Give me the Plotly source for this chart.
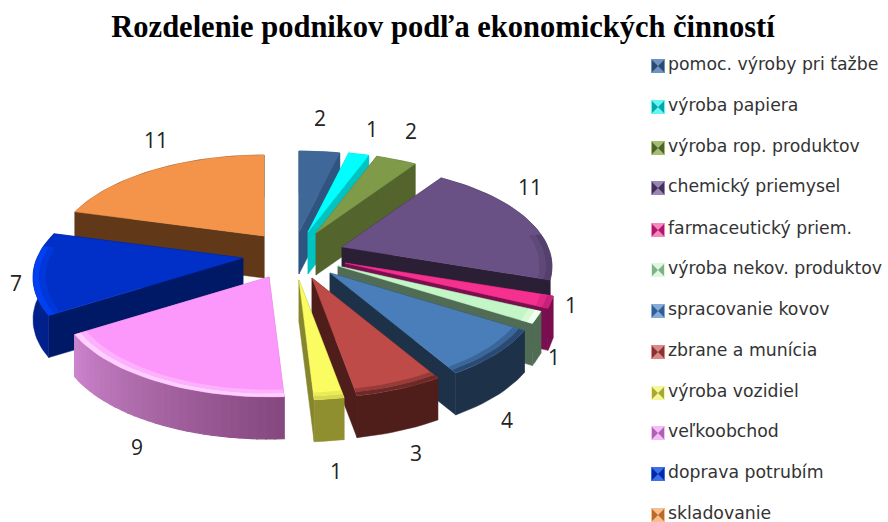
import math
import plotly.graph_objects as go

# ---- data ----
CATEGORIES = ["pomoc. výroby pri ťažbe", "výroba papiera", "výroba rop. produktov",
              "chemický priemysel", "farmaceutický priem.", "výroba nekov. produktov",
              "spracovanie kovov", "zbrane a munícia", "výroba vozidiel",
              "veľkoobchod", "doprava potrubím", "skladovanie"]
VALUES = [2, 1, 2, 11, 1, 1, 4, 3, 1, 9, 7, 11]
TITLE = "Rozdelenie podnikov podľa ekonomických činností"

# ---- style ----
TOP = ["#3F6797", "#00FFFF", "#7F9A48", "#695185", "#F5308F", "#C3F5C6",
       "#4A7EBB", "#BE4B48", "#FBFB62", "#FC98FB", "#0030C8", "#F4944A"]
WALL = ["#2F5480", "#00C4C4", "#53652C", "#2B1F36", "#7A0F50", "#506C55",
        "#1D3148", "#4F1E1B", "#86862E", "#B06CB0", "#001966", "#613919"]
RIM = ["#2F5480", "#00C4C4", "#53652C", "#2B1F36", "#7A0F50", "#506C55",
       "#1D3148", "#4F1E1B", "#8F8F30", "#B06CB0", "#00208C", "#613919"]
BEVEL = ["#35597F", "#00E0E0", "#6A8039", "#54406C", "#C8207A", "#F0FFF0",
         "#2A4A72", "#6A2A28", "#D8D850", "#FFD0FF", "#0040F0", "#C87838"]
MARK_DARK = ["#2C4A70", "#00A8A8", "#4F6329", "#40305A", "#B01870", "#7FB088",
             "#2F5F95", "#8A3230", "#A8A830", "#B060B0", "#002AA8", "#B86A28"]
MARK_LIGHT = ["#6F93BE", "#66F5F5", "#A4BC74", "#9A86B4", "#F788BC", "#DDF8DE",
              "#86ABD8", "#D88A88", "#F5F59A", "#F5BDF5", "#3F6FE8", "#F8BE8E"]

# exploded slice centres, as offsets from the pie centre
CX, CY = 300, 258
EXPLODE_X = [-1, 8, 16, 42, 45, 38, 30, 12, -1, -31, -57, -36]
EXPLODE_Y = [-26, -26, -25, -11, 5, 8, 15, 20, 22, 19, 0, -22]
RX, RY, PERSP, DEPTH = 206, 96.7, 0.194, 42
DRAW_ORDER = [0, 1, 2, 3, 4, 5, 6, 7, 8, 11, 10, 9]
LABEL_X = [320, 372, 411, 530, 571, 554, 507, 416, 336, 137, 16, 156]
LABEL_Y = [121, 132, 134, 190, 308, 360, 423, 456, 474, 450, 286, 143]
LEGEND_Y = [66, 107, 148, 188, 230, 270, 311, 352, 393, 433, 474, 515]


def proj(deg, ax, ay, r=1.0):
    a = math.radians(deg)
    u, v = math.sin(a), math.cos(a)
    s = 1 / (1 + PERSP * v)
    return ax + r * RX * u * s, ay - r * RY * v * s, v


def hex2rgb(c):
    return tuple(int(c[i:i + 2], 16) for i in (1, 3, 5))


def blend(c1, c2, t):
    a, b = hex2rgb(c1), hex2rgb(c2)
    return "rgb(%d,%d,%d)" % tuple(a[i] + (b[i] - a[i]) * t for i in range(3))


fig = go.Figure()


def poly(xs, ys, color, lw=0.5):
    fig.add_trace(go.Scatter(x=xs + xs[:1], y=ys + ys[:1], mode="lines", fill="toself",
                             fillcolor=color, line=dict(color=color, width=lw),
                             hoverinfo="skip", showlegend=False))


total = sum(VALUES)
starts, c = [], 0
for v in VALUES:
    starts.append(c / total * 360)
    c += v

for i in DRAW_ORDER:
    a0 = starts[i]
    a1 = a0 + VALUES[i] / total * 360
    ax, ay = CX + EXPLODE_X[i], CY + EXPLODE_Y[i]
    n = max(4, int((a1 - a0) / 2))
    degs = [a0 + (a1 - a0) * k / n for k in range(n + 1)]
    pts = [proj(d, ax, ay) for d in degs]
    px = [p[0] for p in pts]
    py = [p[1] for p in pts]
    # inner walls
    for j in (0, -1):
        poly([ax, px[j], px[j], ax], [ay, py[j], py[j] + DEPTH, ay + DEPTH], WALL[i])
    # outer rim
    if i == 9:  # shaded rim, light on the left, dark on the right
        for k in range(n):
            t = k / (n - 1)
            poly([px[k], px[k + 1], px[k + 1], px[k]],
                 [py[k], py[k + 1], py[k + 1] + DEPTH, py[k] + DEPTH],
                 blend("#85487F", "#CB84CB", t), lw=1.2)
    else:
        poly(px + px[::-1], py + [y + DEPTH for y in py[::-1]], RIM[i])
    # top face
    poly([ax] + px, [ay] + py, TOP[i])
    # soft bevel along the front edge, inset towards the slice centre
    front = [d for d in degs if math.cos(math.radians(d)) < 0.15]
    if len(front) > 1:
        for r_out, r_in, t in ((1.0, 0.97, 1.0), (0.97, 0.94, 0.45)):
            outer = [proj(d, ax, ay, r_out) for d in front]
            inner = [proj(d, ax, ay, r_in) for d in front]
            poly([p[0] for p in outer] + [p[0] for p in inner[::-1]],
                 [p[1] for p in outer] + [p[1] for p in inner[::-1]],
                 blend(TOP[i], BEVEL[i], t), lw=0)

# data labels
fig.add_trace(go.Scatter(x=LABEL_X, y=LABEL_Y, mode="text", text=[str(v) for v in VALUES],
                         textposition="middle center",
                         textfont=dict(family="Open Sans", size=21, color="#222222"),
                         hoverinfo="skip", showlegend=False))

# legend
LEG_X = [658] * len(CATEGORIES)
LEG_T = [668] * len(CATEGORIES)
fig.add_trace(go.Scatter(x=LEG_X, y=LEGEND_Y, mode="markers",
                         marker=dict(symbol="square", size=14, color=MARK_LIGHT, line=dict(width=0)),
                         hoverinfo="skip", showlegend=False))
fig.add_trace(go.Scatter(x=LEG_X, y=LEGEND_Y, mode="markers",
                         marker=dict(symbol="bowtie", size=12, color=MARK_DARK, line=dict(width=0)),
                         hoverinfo="skip", showlegend=False))
fig.add_trace(go.Scatter(x=LEG_T, y=LEGEND_Y, mode="text", text=CATEGORIES,
                         textposition="middle right",
                         textfont=dict(family="DejaVu Sans", size=17.3, color="#333333"),
                         hoverinfo="skip", showlegend=False))

fig.update_layout(
    width=888, height=522, margin=dict(l=0, r=0, t=0, b=0),
    paper_bgcolor="white", plot_bgcolor="white", showlegend=False,
    xaxis=dict(range=[0, 888], visible=False, fixedrange=True),
    yaxis=dict(range=[522, 0], visible=False, fixedrange=True),
    title=dict(text="<b>%s</b>" % TITLE, x=443 / 888, xanchor="center", y=1 - 26 / 522, yanchor="middle",
               font=dict(family="Liberation Serif", size=30.5, color="black")),
)
fig.write_html("out.html", config=dict(displayModeBar=False),
               post_script="document.body.style.margin='0';")
